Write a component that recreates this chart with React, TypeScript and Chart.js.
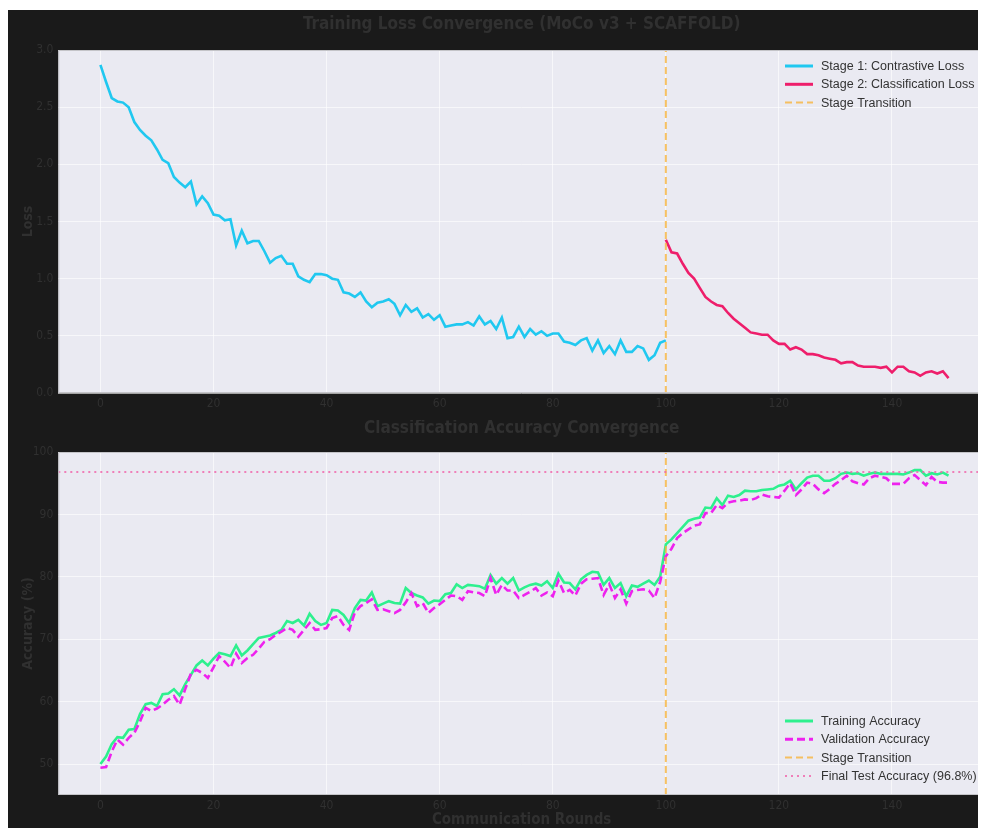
import React, { useEffect, useRef } from "react";
import { Chart, registerables } from "chart.js";

Chart.register(...registerables);

// ---------------- DATA ----------------
const STAGE1_START = 0;
const STAGE2_START = 100;
const STAGE_TRANSITION = 100;
const FINAL_TEST_ACC = 96.8;

const X_TICKS = [0, 20, 40, 60, 80, 100, 120, 140];
const LOSS_TICKS = [0, 0.5, 1.0, 1.5, 2.0, 2.5, 3.0];
const ACC_TICKS = [50, 60, 70, 80, 90, 100];

const lossStage1 = [
  2.87, 2.72, 2.58, 2.55, 2.54, 2.5, 2.37, 2.3, 2.25, 2.21,
  2.13, 2.04, 2.01, 1.89, 1.84, 1.8, 1.85, 1.65, 1.72, 1.66,
  1.56, 1.55, 1.51, 1.52, 1.29, 1.42, 1.31, 1.33, 1.33, 1.24,
  1.14, 1.18, 1.2, 1.13, 1.13, 1.02, 0.99, 0.97, 1.04, 1.04,
  1.03, 1.0, 0.99, 0.88, 0.87, 0.84, 0.88, 0.8, 0.75, 0.79,
  0.8, 0.82, 0.78, 0.68, 0.77, 0.71, 0.74, 0.66, 0.69, 0.64,
  0.68, 0.58, 0.59, 0.6, 0.6, 0.62, 0.59, 0.67, 0.6, 0.63,
  0.56, 0.66, 0.48, 0.49, 0.58, 0.49, 0.56, 0.51, 0.54, 0.5,
  0.52, 0.52, 0.45, 0.44, 0.42, 0.46, 0.48, 0.37, 0.46, 0.35,
  0.41, 0.34, 0.46, 0.36, 0.36, 0.41, 0.39, 0.29, 0.33, 0.44,
  0.46,
];

const lossStage2 = [
  1.34, 1.23, 1.22, 1.13, 1.05, 1.0, 0.92, 0.84, 0.8, 0.77,
  0.76, 0.7, 0.65, 0.61, 0.57, 0.53, 0.52, 0.51, 0.51, 0.46,
  0.43, 0.43, 0.38, 0.4, 0.38, 0.34, 0.34, 0.33, 0.31, 0.3,
  0.29, 0.26, 0.27, 0.27, 0.24, 0.23, 0.23, 0.23, 0.22, 0.23,
  0.18, 0.23, 0.23, 0.19, 0.18, 0.15, 0.18, 0.19, 0.17, 0.19,
  0.13,
];

const trainAcc = [
  50.0, 51.2, 53.2, 54.3, 54.2, 55.5, 55.6, 58.0, 59.6, 59.8,
  59.3, 61.2, 61.3, 62.0, 61.0, 62.8, 64.3, 65.8, 66.6, 65.8,
  66.9, 67.8, 67.6, 67.3, 69.0, 67.4, 68.2, 69.2, 70.2, 70.4,
  70.6, 71.0, 71.5, 72.9, 72.6, 73.1, 72.2, 74.1, 72.9, 72.3,
  72.6, 74.7, 74.6, 73.9, 72.6, 75.0, 76.3, 76.2, 77.5, 75.3,
  75.7, 76.1, 75.8, 75.7, 78.2, 77.4, 77.0, 76.7, 75.7, 76.2,
  76.1, 77.2, 77.4, 78.8, 78.2, 78.7, 78.6, 78.5, 78.1, 80.3,
  78.9, 79.8, 78.9, 79.8, 77.8, 78.3, 78.7, 78.9, 78.6, 79.3,
  78.2, 80.5, 79.1, 79.0, 78.0, 79.6, 80.3, 80.8, 80.7, 78.7,
  79.8, 78.2, 79.0, 76.9, 78.6, 78.4, 78.9, 79.4, 78.7, 80.0,
  85.2, 86.0, 87.0, 88.0, 89.0, 89.3, 89.5, 91.1, 91.0, 92.6,
  91.5, 93.0, 92.8, 93.1, 93.8, 93.7, 93.7, 93.9, 94.0, 94.1,
  94.6, 94.8, 95.4, 94.0, 95.0, 95.9, 96.2, 96.2, 95.4, 95.4,
  95.8, 96.5, 96.7, 96.5, 96.6, 96.2, 96.5, 96.7, 96.5, 96.5,
  96.5, 96.5, 96.4, 96.7, 97.1, 97.1, 96.2, 96.6, 96.4, 96.7,
  96.2,
];

const valAcc = [
  49.4, 49.5, 52.0, 53.9, 53.1, 54.2, 55.0, 56.8, 59.0, 58.5,
  58.9, 59.5, 60.3, 60.9, 59.5, 62.0, 64.5, 65.1, 64.6, 63.8,
  65.5, 67.3, 66.4, 65.4, 67.7, 66.2, 67.0, 67.5, 68.5, 69.6,
  70.0, 70.7, 71.2, 71.8, 71.5, 70.4, 71.5, 72.6, 71.5, 71.6,
  71.8, 73.4, 73.7, 72.3, 71.5, 74.3, 75.3, 75.8, 76.4, 74.7,
  74.8, 74.5, 74.2, 74.7, 75.9, 77.4, 75.3, 75.8, 74.2, 75.0,
  75.6, 76.3, 77.0, 76.9, 76.3, 77.7, 77.5, 77.4, 76.9, 79.8,
  77.1, 78.7, 77.8, 77.8, 76.6, 77.1, 77.6, 78.2, 77.0, 77.5,
  76.9, 79.4, 77.4, 77.9, 77.0, 78.9, 79.6, 79.7, 79.8, 77.1,
  78.8, 76.6, 78.0, 75.7, 77.7, 77.9, 78.0, 77.8, 76.6, 79.2,
  83.3, 84.5, 86.2, 87.0, 87.6, 88.2, 88.4, 90.2, 90.2, 91.5,
  91.0, 91.9, 92.1, 92.2, 92.4, 92.3, 92.6, 93.2, 92.9, 92.8,
  92.7, 93.8, 95.0, 93.1, 94.0, 95.1, 94.9, 94.0, 93.4, 94.1,
  94.9, 95.5, 96.2, 95.3, 95.0, 94.8, 95.8, 96.2, 96.0, 95.8,
  94.9, 94.9, 94.9, 95.8, 96.3, 95.5, 94.7, 96.0, 95.2, 95.1,
  95.1,
];

// ---------------- STYLE ----------------
const X_MIN = -7.45;
const X_MAX = 156.45;
const LOSS_MIN = 0;
const LOSS_MAX = 3.0;
const ACC_MIN = 45.04;
const ACC_MAX = 100;

const FIG_BG = "#1a1a1a";
const PLOT_BG = "#eaeaf2";
const GRID = "rgba(255,255,255,0.6)";
const DIM_TEXT = "#303030";
const LEGEND_TEXT = "#333333";
const FRAME = "#c4c4c8";
const CYAN = "#20c8f0";
const RED = "#ee1e6b";
const GREEN = "#2ef08e";
const MAGENTA = "#ee22ee";
const ORANGE = "rgba(247,180,60,0.8)";
const PINK = "rgba(240,100,170,0.8)";

const NARROW = "'Liberation Sans Narrow', 'DejaVu Sans Condensed', 'Liberation Sans', sans-serif";
const SANS = "'Liberation Sans', Arial, sans-serif";

const CW = 978;
const CH = 410;

type LegendItem = { label: string; color: string; width: number; dash: number[] };

function pts(start: number, vals: number[]) {
  return vals.map((v, i) => ({ x: start + i, y: v }));
}

function decor(cfg: {
  title: string;
  titleY: number;
  yLabel: string;
  xLabel?: string;
  xLabelY?: number;
  legend: LegendItem[];
  legendTop: boolean;
}) {
  return {
    id: "decor",
    beforeDraw(chart: any) {
      const { ctx, chartArea: a } = chart;
      ctx.save();
      ctx.fillStyle = PLOT_BG;
      ctx.fillRect(a.left, a.top, a.right - a.left, a.bottom - a.top);
      ctx.restore();
    },
    afterDraw(chart: any) {
      const { ctx, chartArea: a } = chart;
      ctx.save();
      ctx.strokeStyle = FRAME;
      ctx.lineWidth = 1;
      ctx.strokeRect(a.left + 0.5, a.top + 0.5, a.right - a.left - 1, a.bottom - a.top - 1);

      ctx.fillStyle = DIM_TEXT;
      ctx.textAlign = "center";
      ctx.textBaseline = "middle";
      ctx.font = `bold 17px ${NARROW}`;
      ctx.fillText(cfg.title, (a.left + a.right) / 2, cfg.titleY);

      ctx.save();
      ctx.translate(20, (a.top + a.bottom) / 2);
      ctx.rotate(-Math.PI / 2);
      ctx.font = `bold 14px ${NARROW}`;
      ctx.fillText(cfg.yLabel, 0, 0);
      ctx.restore();

      if (cfg.xLabel) {
        ctx.font = `bold 15px ${NARROW}`;
        ctx.fillText(cfg.xLabel, (a.left + a.right) / 2, cfg.xLabelY || 0);
      }

      const x1 = a.right - 200;
      const x2 = a.right - 172;
      const tx = a.right - 164;
      const y0 = cfg.legendTop ? a.top + 16 : a.bottom - 74;
      cfg.legend.forEach((it, i) => {
        const y = y0 + i * 18.3;
        ctx.strokeStyle = it.color;
        ctx.lineWidth = it.width;
        ctx.setLineDash(it.dash);
        ctx.beginPath();
        ctx.moveTo(x1, y);
        ctx.lineTo(x2, y);
        ctx.stroke();
        ctx.setLineDash([]);
        ctx.fillStyle = LEGEND_TEXT;
        ctx.font = `12.5px ${SANS}`;
        ctx.textAlign = "left";
        ctx.textBaseline = "middle";
        ctx.fillText(it.label, tx, y + 0.5);
      });
      ctx.restore();
    },
  };
}

function xScale(height: number) {
  return {
    type: "linear" as const,
    min: X_MIN,
    max: X_MAX,
    afterBuildTicks: (s: any) => {
      s.ticks = X_TICKS.map((v) => ({ value: v }));
    },
    afterFit: (s: any) => {
      s.height = height;
    },
    grid: { color: GRID, lineWidth: 1, drawTicks: false },
    border: { display: false },
    ticks: {
      color: DIM_TEXT,
      font: { family: NARROW, size: 12 },
      padding: 4,
      maxRotation: 0,
      callback: (v: any) => String(v),
    },
  };
}

function yScale(min: number, max: number, ticks: number[], fmt: (v: number) => string) {
  return {
    type: "linear" as const,
    min,
    max,
    afterBuildTicks: (s: any) => {
      s.ticks = ticks.map((v) => ({ value: v }));
    },
    afterFit: (s: any) => {
      s.width = 50.3;
    },
    grid: { color: GRID, lineWidth: 1, drawTicks: false },
    border: { display: false },
    ticks: {
      color: DIM_TEXT,
      font: { family: NARROW, size: 12 },
      padding: 5,
      callback: (v: any) => fmt(Number(v)),
    },
  };
}

const baseOpts = {
  animation: false as const,
  responsive: false,
  maintainAspectRatio: false,
  events: [] as any[],
  elements: { point: { radius: 0 }, line: { tension: 0 } },
};

export default function App() {
  const c1 = useRef<HTMLCanvasElement>(null);
  const c2 = useRef<HTMLCanvasElement>(null);

  useEffect(() => {
    document.body.style.overflow = "hidden";
    const lossChart = new Chart(c1.current as HTMLCanvasElement, {
      type: "line",
      data: {
        datasets: [
          {
            label: "Stage 1: Contrastive Loss",
            data: pts(STAGE1_START, lossStage1),
            borderColor: CYAN,
            borderWidth: 2.6,
            fill: false,
            order: 3,
          },
          {
            label: "Stage 2: Classification Loss",
            data: pts(STAGE2_START, lossStage2),
            borderColor: RED,
            borderWidth: 2.6,
            fill: false,
            order: 2,
          },
          {
            label: "Stage Transition",
            data: [
              { x: STAGE_TRANSITION, y: LOSS_MIN },
              { x: STAGE_TRANSITION, y: LOSS_MAX },
            ],
            borderColor: ORANGE,
            borderWidth: 2,
            borderDash: [7, 4],
            fill: false,
            order: 1,
          },
        ],
      },
      options: {
        ...baseOpts,
        layout: { padding: { top: 40, right: 1, left: 0, bottom: 0 } },
        plugins: { legend: { display: false }, title: { display: false }, tooltip: { enabled: false } },
        scales: {
          x: xScale(27),
          y: yScale(LOSS_MIN, LOSS_MAX, LOSS_TICKS, (v) => v.toFixed(1)),
        },
      } as any,
      plugins: [
        decor({
          title: "Training Loss Convergence (MoCo v3 + SCAFFOLD)",
          titleY: 15,
          yLabel: "Loss",
          legendTop: true,
          legend: [
            { label: "Stage 1: Contrastive Loss", color: CYAN, width: 3, dash: [] },
            { label: "Stage 2: Classification Loss", color: RED, width: 3, dash: [] },
            { label: "Stage Transition", color: ORANGE, width: 2, dash: [7, 4] },
          ],
        }),
      ],
    });

    const accChart = new Chart(c2.current as HTMLCanvasElement, {
      type: "line",
      data: {
        datasets: [
          {
            label: "Training Accuracy",
            data: pts(0, trainAcc),
            borderColor: GREEN,
            borderWidth: 2.6,
            fill: false,
            order: 4,
          },
          {
            label: "Validation Accuracy",
            data: pts(0, valAcc),
            borderColor: MAGENTA,
            borderWidth: 2.6,
            borderDash: [8, 4],
            fill: false,
            order: 3,
          },
          {
            label: "Stage Transition",
            data: [
              { x: STAGE_TRANSITION, y: ACC_MIN },
              { x: STAGE_TRANSITION, y: ACC_MAX },
            ],
            borderColor: ORANGE,
            borderWidth: 2,
            borderDash: [7, 4],
            fill: false,
            order: 2,
          },
          {
            label: "Final Test Accuracy (96.8%)",
            data: [
              { x: X_MIN, y: FINAL_TEST_ACC },
              { x: X_MAX, y: FINAL_TEST_ACC },
            ],
            borderColor: PINK,
            borderWidth: 2,
            borderDash: [2, 4],
            fill: false,
            order: 1,
          },
        ],
      },
      options: {
        ...baseOpts,
        layout: { padding: { top: 32, right: 1, left: 0, bottom: 0 } },
        plugins: { legend: { display: false }, title: { display: false }, tooltip: { enabled: false } },
        scales: {
          x: xScale(35),
          y: yScale(ACC_MIN, ACC_MAX, ACC_TICKS, (v) => String(Math.round(v))),
        },
      } as any,
      plugins: [
        decor({
          title: "Classification Accuracy Convergence",
          titleY: 9,
          yLabel: "Accuracy (%)",
          xLabel: "Communication Rounds",
          xLabelY: 400,
          legendTop: false,
          legend: [
            { label: "Training Accuracy", color: GREEN, width: 3, dash: [] },
            { label: "Validation Accuracy", color: MAGENTA, width: 3, dash: [8, 4] },
            { label: "Stage Transition", color: ORANGE, width: 2, dash: [7, 4] },
            { label: "Final Test Accuracy (96.8%)", color: PINK, width: 2, dash: [2, 4] },
          ],
        }),
      ],
    });

    return () => {
      lossChart.destroy();
      accChart.destroy();
    };
  }, []);

  return (
    <div
      style={{
        position: "relative",
        top: 2,
        width: CW,
        height: 820,
        background: FIG_BG,
        overflow: "hidden",
      }}
    >
      <canvas ref={c1} width={CW} height={CH} style={{ position: "absolute", left: 0, top: 0 }} />
      <canvas ref={c2} width={CW} height={CH} style={{ position: "absolute", left: 0, top: CH }} />
    </div>
  );
}
